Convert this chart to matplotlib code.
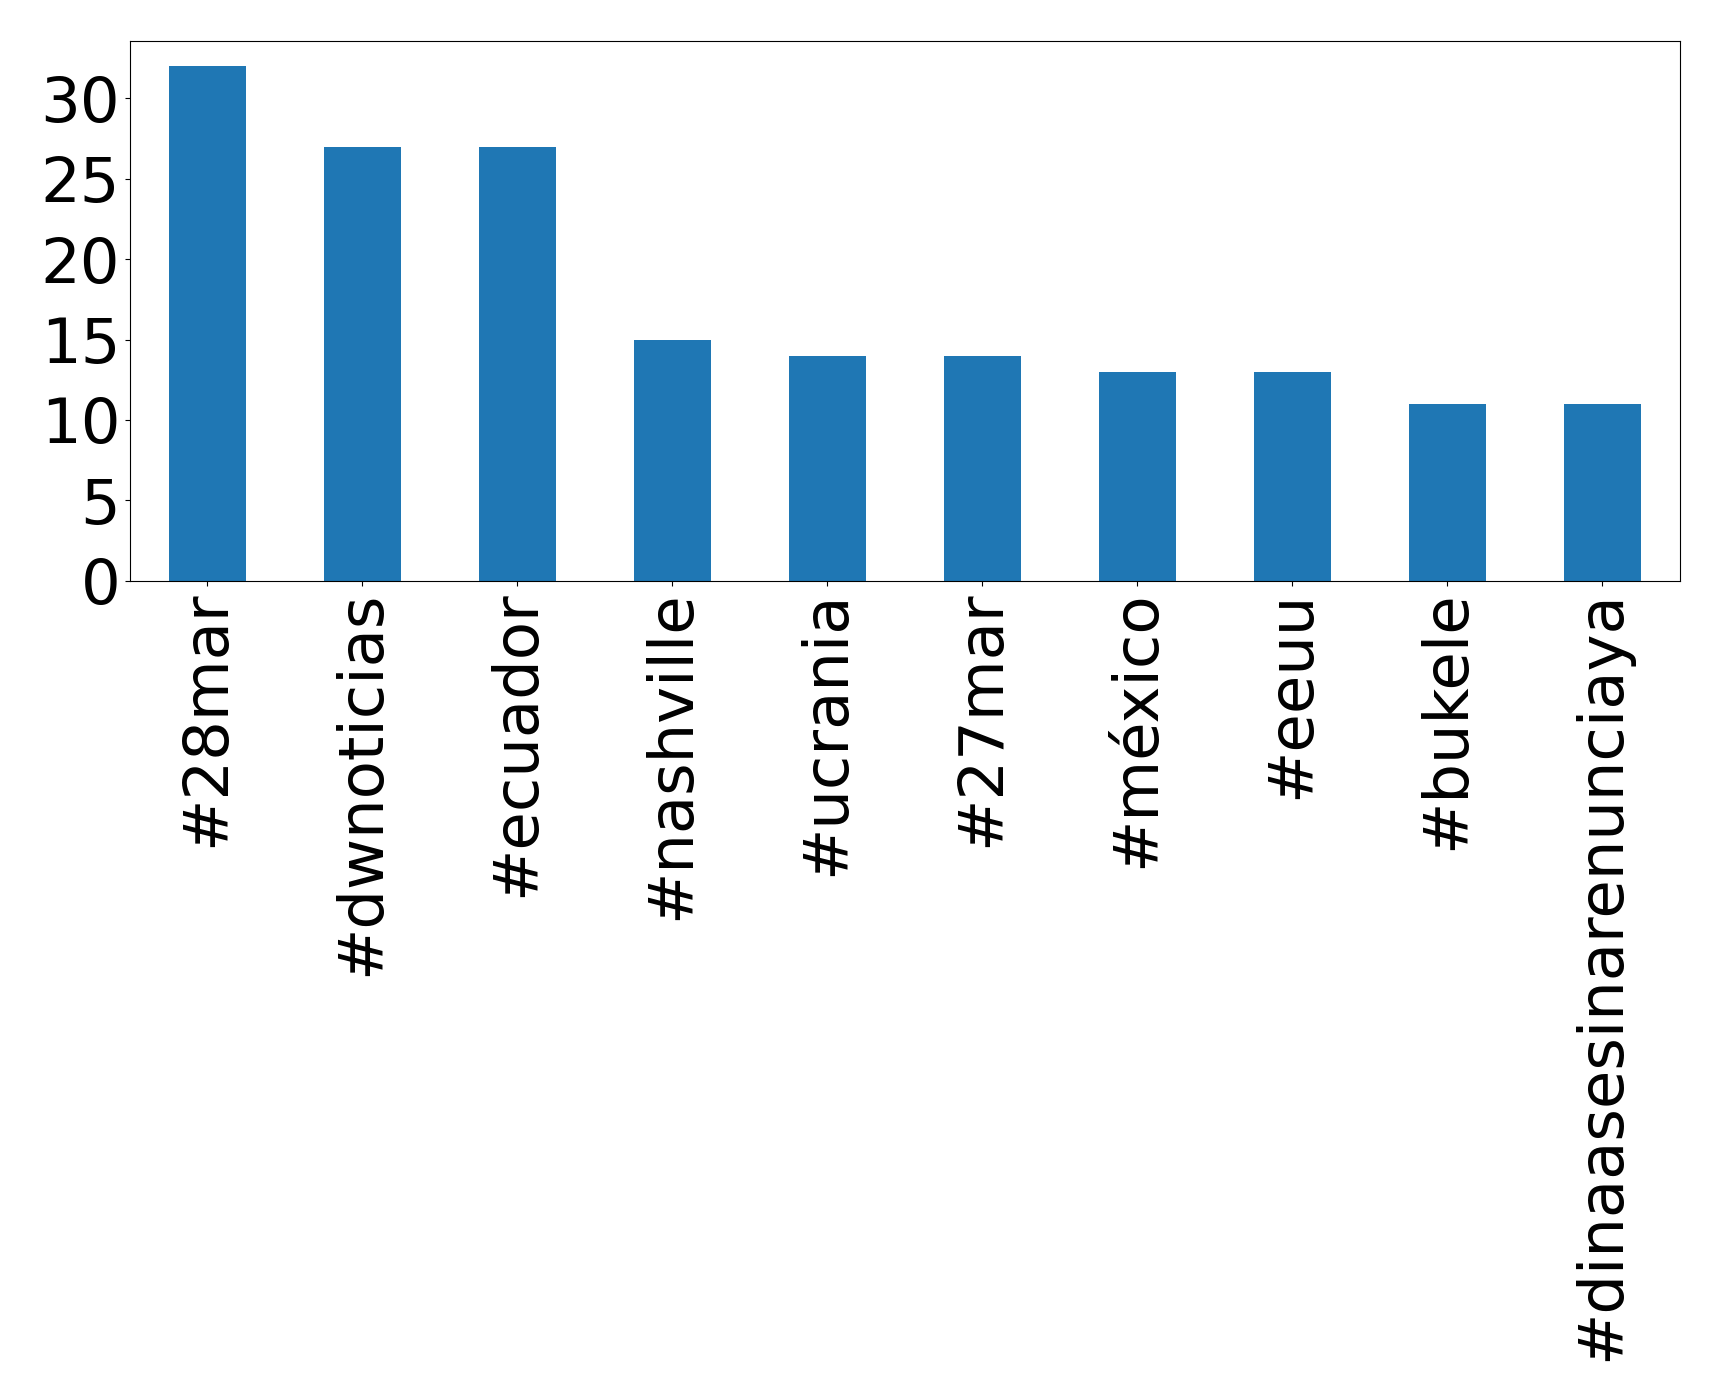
import matplotlib
matplotlib.use("Agg")
import matplotlib.pyplot as plt

categories = ["#28mar", "#dwnoticias", "#ecuador", "#nashville", "#ucrania",
              "#27mar", "#méxico", "#eeuu", "#bukele", "#dinaasesinarenunciaya"]
counts = [32, 27, 27, 15, 14, 14, 13, 13, 11, 11]
yticks = [0, 5, 10, 15, 20, 25, 30]

fig = plt.figure(figsize=(17.19, 13.99), dpi=100)
ax = fig.add_axes([0.0756, 0.585, 0.9016, 0.386])
x = list(range(len(categories)))
ax.bar(x, counts, width=0.5, color="#1f77b4")
ax.set_xlim(-0.5, len(categories) - 0.5)
ax.set_ylim(0, max(counts) * 1.05)
ax.set_yticks(yticks)
ax.set_xticks(x)
ax.set_xticklabels(categories, rotation=90, fontsize=45)
ax.tick_params(axis="y", labelsize=45)
fig.savefig("out.png", dpi=100)
